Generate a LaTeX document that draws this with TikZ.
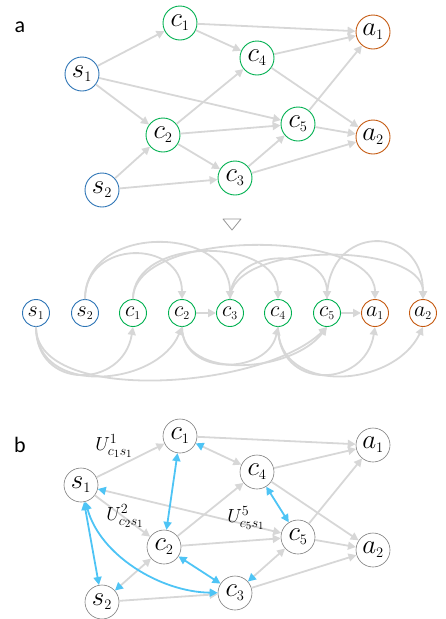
\RequirePackage{fix-cm}
\documentclass[tikz,border=0pt]{standalone}
\usepackage{fontspec}
\newfontfamily\lab{Carlito}
\usetikzlibrary{arrows.meta}
\DeclareMathSizes{27}{27}{14.5}{11}
\DeclareMathSizes{22}{22}{12}{9}
\DeclareMathSizes{19}{19}{14}{11}
\definecolor{ga}{RGB}{215,215,215}
\definecolor{bl}{RGB}{78,196,245}
\definecolor{sb}{RGB}{46,117,182}
\definecolor{cg}{RGB}{0,176,80}
\definecolor{ao}{RGB}{197,90,17}
\definecolor{nb}{RGB}{125,125,125}
\begin{document}
\begin{tikzpicture}[x=1pt,y=-1pt,
  ta/.tip={Triangle[length=8pt,width=8pt]},
  tb/.tip={Triangle[length=8pt,width=8pt,color=bl]},
  nd/.style={circle,fill=white,line width=0.9pt,minimum size=34pt,inner sep=0pt,font=\fontsize{27}{29}\selectfont},
  md/.style={circle,fill=white,line width=0.9pt,minimum size=27pt,inner sep=0pt,font=\fontsize{22}{24}\selectfont},
  sn/.style={draw=sb},
  cn/.style={draw=cg},
  an/.style={draw=ao},
  bn/.style={draw=nb,line width=0.6pt},
  ge/.style={draw=ga,line width=1.8pt,-ta},
  be/.style={draw=bl,line width=1.8pt,ta-ta},
  lbl/.style={font=\lab\fontsize{22}{24}\selectfont},
  ul/.style={font=\fontsize{19}{21}\selectfont}]
\useasboundingbox (0,0) rectangle (445,619);

% ---------- part a ----------
\node[lbl] (la) at (20,27) {a};
\node[nd,cn] (c1) at (180,23) {$c_1$};
\node[nd,cn] (c4) at (257,58) {$c_4$};
\node[nd,sn] (s1) at (82,74) {$s_1$};
\node[nd,an] (a1) at (373,32) {$a_1$};
\node[nd,cn] (c2) at (163,135) {$c_2$};
\node[nd,cn] (c5) at (298,124) {$c_5$};
\node[nd,an] (a2) at (373,137) {$a_2$};
\node[nd,sn] (s2) at (102,190) {$s_2$};
\node[nd,cn] (c3) at (235,178) {$c_3$};
\draw[ge] (s1) -- (c1);
\draw[ge] (s1) -- (c2);
\draw[ge] (s1) -- (c5);
\draw[ge] (s2) -- (c2);
\draw[ge] (s2) -- (c3);
\draw[ge] (c1) -- (c4);
\draw[ge] (c1) -- (a1);
\draw[ge] (c2) -- (c4);
\draw[ge] (c2) -- (c5);
\draw[ge] (c2) -- (c3);
\draw[ge] (c3) -- (c5);
\draw[ge] (c3) -- (a2);
\draw[ge] (c4) -- (a1);
\draw[ge] (c4) -- (a2);
\draw[ge] (c5) -- (a1);
\draw[ge] (c5) -- (a2);

% ---------- arrow down ----------
\draw[draw=nb!80,line width=0.8pt,line join=round] (223,219) -- (241,219) -- (232,230) -- cycle;

% ---------- linear layout ----------
\node[md,sn] (ms1) at (36,313) {$s_1$};
\node[md,sn] (ms2) at (85,313) {$s_2$};
\node[md,cn] (mc1) at (133,313) {$c_1$};
\node[md,cn] (mc2) at (182,313) {$c_2$};
\node[md,cn] (mc3) at (230,313) {$c_3$};
\node[md,cn] (mc4) at (278,313) {$c_4$};
\node[md,cn] (mc5) at (327,313) {$c_5$};
\node[md,an] (ma1) at (375,313) {$a_1$};
\node[md,an] (ma2) at (423,313) {$a_2$};
\draw[ge] (mc2) -- (mc3);
\draw[ge] (mc5) -- (ma1);
% above
\draw[ge] (ms2.north) .. controls +(0,-60) and +(0,-60) .. (mc2.north);
\draw[ge] (ms2.north) .. controls +(0,-76) and +(0,-74) .. (mc3.north);
\draw[ge] (mc1.north) .. controls +(0,-64) and +(0,-62) .. (mc4.north);
\draw[ge] (mc1.north) .. controls +(0,-72) and +(0,-70) .. (ma1.north);
\draw[ge] (mc3.north) .. controls +(0,-54) and +(0,-52) .. (mc5.north);
\draw[ge] (mc3.north) .. controls +(0,-58) and +(0,-58) .. (ma2.north);
\draw[ge] (mc5.north) .. controls +(0,-76) and +(0,-76) .. (ma2.north);
% below
\draw[ge] (ms1.south) .. controls +(0,64) and +(-10,62) .. (mc1.south);
\draw[ge] (ms1.south) .. controls +(0,70) and +(-25,60) .. (mc2.south);
\draw[ge] (ms1.south) .. controls +(0,78) and +(-65,63) .. (mc5.south);
\draw[ge] (mc2.south) .. controls +(0,50) and +(-10,48) .. (mc4.south);
\draw[ge] (mc2.south) .. controls +(0,54) and +(-35,46) .. (mc5.south);
\draw[ge] (mc4.south) .. controls +(0,64) and +(-10,62) .. (ma1.south);
\draw[ge] (mc4.south) .. controls +(0,68) and +(-30,62) .. (ma2.south);

% ---------- part b ----------
\node[lbl] (lb) at (20,445) {b};
\node[nd,bn] (b1) at (180,436) {$c_1$};
\node[nd,bn] (b4) at (257,472) {$c_4$};
\node[nd,bn] (bs1) at (81,485) {$s_1$};
\node[nd,bn] (ba1) at (373,445) {$a_1$};
\node[nd,bn] (b5) at (298,537) {$c_5$};
\node[nd,bn] (ba2) at (373,550) {$a_2$};
\node[nd,bn] (b2) at (164,547) {$c_2$};
\node[nd,bn] (b3) at (235,593) {$c_3$};
\node[nd,bn] (bs2) at (102,602) {$s_2$};
\draw[ge] (bs1) -- (b1);
\draw[ge] (bs1) -- (b2);
\draw[ge,tb-ta] (bs1) -- (b5);
\draw[ge,tb-ta] (b1) -- (b4);
\draw[ge] (b1) -- (ba1);
\draw[ge,tb-ta] (bs2) -- (b2);
\draw[ge] (bs2) -- (b3);
\draw[ge] (b2) -- (b4);
\draw[ge] (b2) -- (b5);
\draw[ge,tb-ta] (b3) -- (b5);
\draw[ge] (b3) -- (ba2);
\draw[ge] (b4) -- (ba1);
\draw[ge] (b4) -- (ba2);
\draw[ge] (b5) -- (ba1);
\draw[ge] (b5) -- (ba2);
\draw[be] (b1) -- (b2);
\draw[be] (bs1) -- (bs2);
\draw[be] (b2) -- (b3);
\draw[be] (b4) -- (b5);
\draw[be] (bs1) .. controls (100,555) and (160,592) .. (b3);
\node[ul] (u1) at (114,446) {$U^{1}_{c_1 s_1}$};
\node[ul] (u2) at (125,516) {$U^{2}_{c_2 s_1}$};
\node[ul] (u5) at (246,518) {$U^{5}_{c_5 s_1}$};
\end{tikzpicture}
\end{document}
